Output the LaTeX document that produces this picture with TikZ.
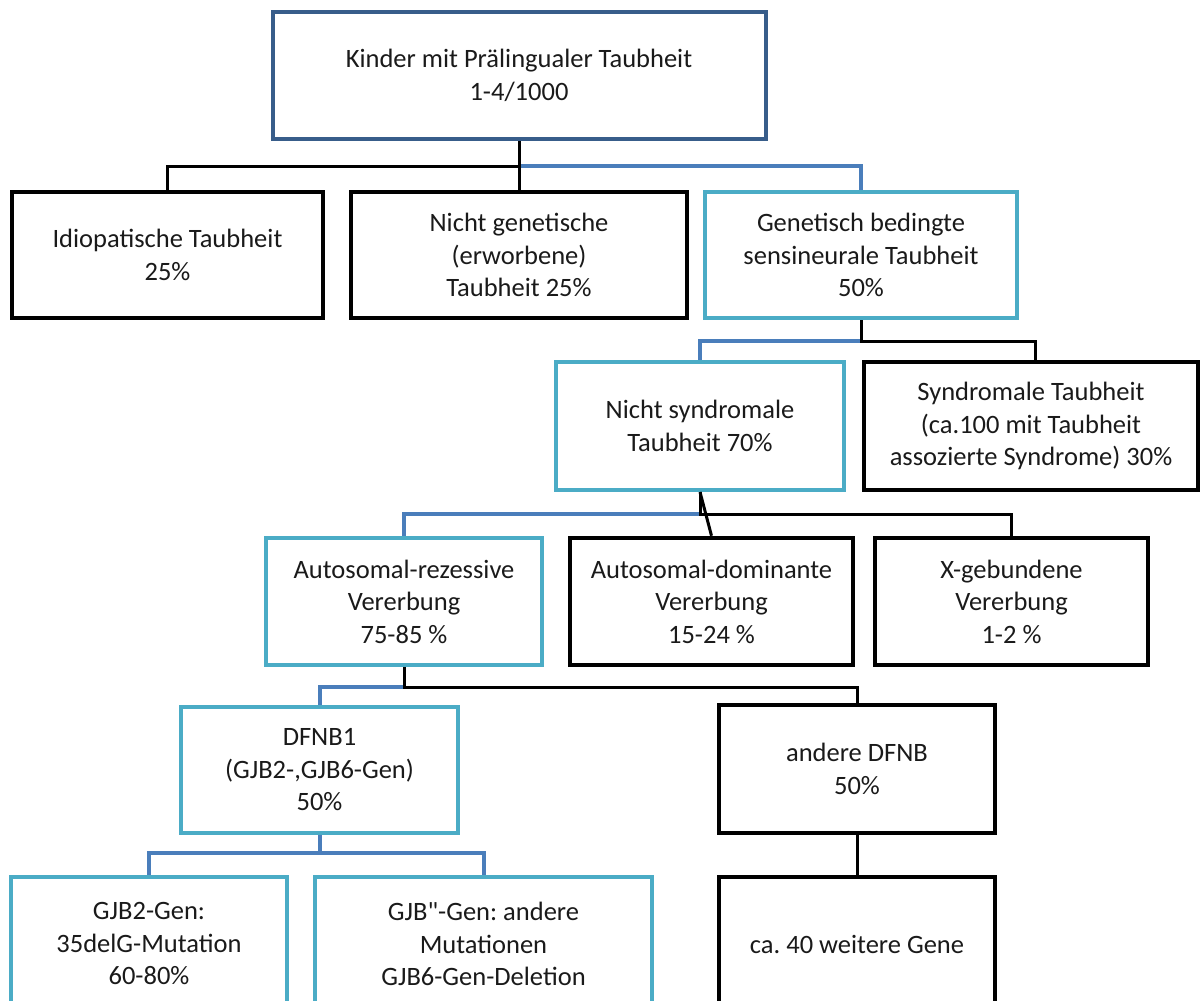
\documentclass[tikz,border=0pt]{standalone}
\usepackage{fontspec}
\setmainfont{Carlito}
\frenchspacing
\definecolor{topblue}{HTML}{385D8A}
\definecolor{cyanbox}{HTML}{4BACC6}
\definecolor{linkblue}{HTML}{4A7EBB}
\definecolor{txt}{HTML}{1A1A1A}
\begin{document}
\begin{tikzpicture}[x=1pt,y=-1pt,
  box/.style={draw=black, line width=4.5pt, fill=white, align=center, inner sep=0pt,
    text=txt, font=\fontsize{26.5}{32.5}\selectfont},
  cbox/.style={box, draw=cyanbox, line width=4pt},
  tbox/.style={box, draw=topblue, line width=4pt},
  blink/.style={draw=linkblue, line width=4pt},
  klink/.style={draw=black, line width=3pt}]
\useasboundingbox (0,0) rectangle (1200,1001);
\clip (0,0) rectangle (1200,1001);

\node[tbox, minimum width=493pt, minimum height=127pt] (top) at (519,75.5)
  {Kinder mit Prälingualer Taubheit\\1-4/1000};

\node[box, minimum width=311pt, minimum height=126pt] (A) at (167.5,255)
  {Idiopatische Taubheit\\25\%};
\node[box, minimum width=336pt, minimum height=126pt] (B) at (519,255)
  {Nicht genetische\\(erworbene)\\Taubheit 25\%};
\node[cbox, minimum width=312pt, minimum height=126pt] (C) at (861,255)
  {Genetisch bedingte\\sensineurale Taubheit\\50\%};

\node[cbox, minimum width=288pt, minimum height=128pt] (D) at (700,426)
  {Nicht syndromale\\Taubheit 70\%};
\node[box, minimum width=334pt, minimum height=128pt] (E) at (1031,426)
  {Syndromale Taubheit\\(ca.100 mit Taubheit\\assozierte Syndrome) 30\%};

\node[cbox, minimum width=276pt, minimum height=127pt] (F) at (404,601.5)
  {Autosomal-rezessive\\Vererbung\\75-85 \%};
\node[box, minimum width=283pt, minimum height=127pt] (G) at (711.5,601.5)
  {Autosomal-dominante\\Vererbung\\15-24 \%};
\node[box, minimum width=273pt, minimum height=127pt] (H) at (1011.5,601.5)
  {X-gebundene\\Vererbung\\1-2 \%};

\node[cbox, minimum width=277pt, minimum height=126pt] (I) at (319.5,770)
  {DFNB1\\(GJB2-,GJB6-Gen)\\50\%};
\node[box, minimum width=276pt, minimum height=128pt] (J) at (857,769)
  {andere DFNB\\50\%};

\node[cbox, minimum width=276pt, minimum height=134pt] (K) at (149,944)
  {GJB2-Gen:\\35delG-Mutation\\60-80\%};
\node[cbox, minimum width=337pt, minimum height=134pt] (L) at (483.5,944)
  {GJB{\addfontfeatures{Ligatures=TeXOff}"}-Gen: andere\\Mutationen\\GJB6-Gen-Deletion};
\node[box, minimum width=276pt, minimum height=134pt] (M) at (857,944)
  {ca. 40 weitere Gene};

% connectors
\draw[blink] (top.south) ++(0,25) -| (C.north);
\draw[klink] (top.south) -- ++(0,25) -| (A.north);
\draw[klink] (top.south) -- (B.north);

\draw[blink] (C.south) ++(0,21) -| (D.north);
\draw[klink] (C.south) -- ++(0,21) -| ([xshift=4pt]E.north);

\draw[blink] (D.south) ++(0,22) -| (F.north);
\draw[klink] (D.south) -- ++(0,22) -| (H.north);
\draw[klink] (D.south) -- (G.north);

\draw[blink] (F.south) ++(0,20) -| (I.north);
\draw[klink] (F.south) -- ++(0,20) -| (J.north);

\draw[blink] (I.south) -- ++(0,18) -| (K.north);
\draw[blink] (I.south) -- ++(0,18) -| (L.north);

\draw[klink] (J.south) -- (M.north);
\end{tikzpicture}
\end{document}
